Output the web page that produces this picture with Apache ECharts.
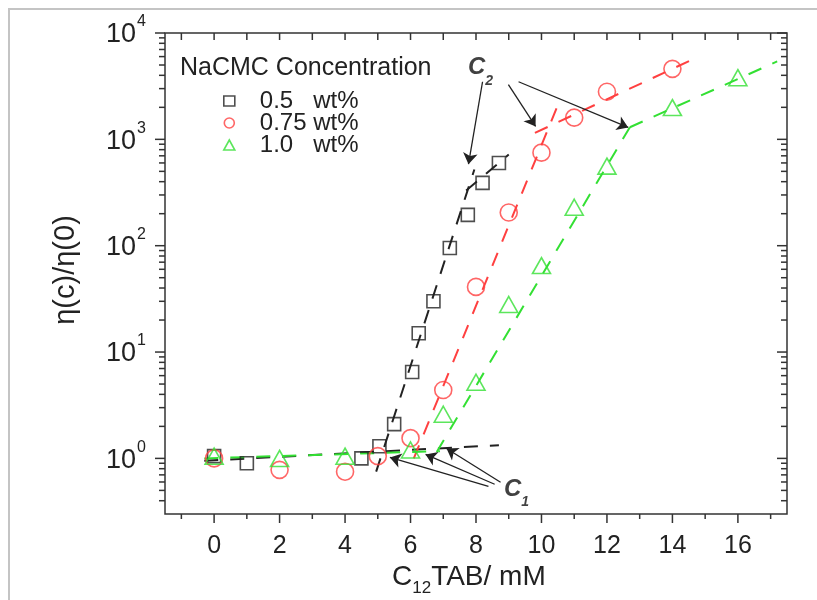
<!DOCTYPE html>
<html>
<head>
<meta charset="utf-8">
<script src="https://cdn.jsdelivr.net/npm/echarts@6/dist/echarts.min.js"></script>
<style>
  html, body { margin: 0; padding: 0; background: #fff; }
  #chart { width: 817px; height: 600px; }
</style>
</head>
<body>
<div id="chart"></div>
<script>
// Relative viscosity of NaCMC solutions versus added C12TAB

// 0.5 wt% NaCMC
const conc05 = [0, 1, 4.5, 5.05, 5.5, 6.05, 6.25, 6.7, 7.2, 7.75, 8.2, 8.7];
const eta05  = [1.05, 0.9, 1.0, 1.3, 2.1, 6.5, 15, 30, 95, 195, 390, 600];

// 0.75 wt% NaCMC
const conc075 = [0, 2, 4, 5, 6, 7, 8, 9, 10, 11, 12, 14];
const eta075  = [1.0, 0.78, 0.75, 1.05, 1.55, 4.4, 41, 205, 750, 1600, 2800, 4600];

// 1.0 wt% NaCMC
const conc10 = [0, 2, 4, 6, 7, 8, 9, 10, 11, 12, 14, 16];
const eta10  = [1.05, 1.0, 1.05, 1.2, 2.6, 5.2, 28, 65, 230, 560, 1990, 3800];

// dashed guide lines: [C12TAB, eta] end points
const guide05Flat  = [[-0.3, 0.95], [8.7, 1.33]];
const guide05Rise  = [[4.95, 0.75], [7.95, 520]];
const guide05High  = [[7.7, 330], [9.0, 720]];
const guide075Rise = [[6.1, 1.0], [10.5, 2100]];
const guide075High = [[9.8, 1150], [14.8, 6000]];
const guide10Flat  = [[-0.3, 1.0], [6.9, 1.17]];
const guide10Rise  = [[6.8, 1.15], [12.7, 1300]];
const guide10High  = [[12.7, 1300], [17.2, 5400]];

// arrows from the C1 / C2 labels to the break points
const arrowsC1 = [
  [[8.38, 0.547], [5.37, 1.02]],
  [[8.57, 0.571], [6.46, 1.09]],
  [[8.75, 0.597], [7.10, 1.24]]
];
const arrowsC2 = [
  [[8.2, 3480], [7.77, 584]],
  [[8.99, 3265], [9.82, 1323]],
  [[9.3, 3480], [12.65, 1295]]
];
const labelC1 = [8.84, 0.513];
const labelC2 = [7.74, 4710];

// axes
const X_MIN = -1.5, X_MAX = 17.5;
const Y_MIN = 0.3, Y_MAX = 10000;
const xMajorTicks = [0, 2, 4, 6, 8, 10, 12, 14, 16];
const xMinorTicks = [-1, 1, 3, 5, 7, 9, 11, 13, 15, 17];
const yMajorTicks = [1, 10, 100, 1000, 10000];
const yExponents  = ['0', '1', '2', '3', '4'];
const yMinorTicks = [0.4, 0.5, 0.6, 0.7, 0.8, 0.9,
                     2, 3, 4, 5, 6, 7, 8, 9,
                     20, 30, 40, 50, 60, 70, 80, 90,
                     200, 300, 400, 500, 600, 700, 800, 900,
                     2000, 3000, 4000, 5000, 6000, 7000, 8000, 9000];

const seriesNames = ['0.5   wt%', '0.75 wt%', '1.0   wt%'];
const BLACK = '#222222', RED = '#ff4040', GREEN = '#33e033';
const FONT = '"Liberation Sans", Arial, sans-serif';
const AXIS_COLOR = '#333333';

function pairs(xs, ys) { return xs.map((x, i) => [x, ys[i]]); }

function guide(points, color) {
  return {
    type: 'line', data: points, symbol: 'none', showSymbol: false, silent: true,
    lineStyle: { color: color, width: 2, type: [14, 12] }, z: 3
  };
}

function marks(name, xs, ys, color, symbol, size) {
  return {
    type: 'scatter', name: name, data: pairs(xs, ys), symbol: symbol, symbolSize: size,
    itemStyle: { color: 'rgba(0,0,0,0)', borderColor: color, borderWidth: 1.6 }, z: 4
  };
}

function arrows(list) {
  return {
    type: 'lines', coordinateSystem: 'cartesian2d', silent: true, z: 5,
    symbol: ['none', 'arrow'], symbolSize: [0, 11],
    lineStyle: { color: BLACK, width: 1.3, opacity: 1 },
    data: list.map(c => ({ coords: c }))
  };
}

function tag(point, sub) {
  return {
    type: 'scatter', data: [point], symbolSize: 1, silent: true, z: 6,
    itemStyle: { color: 'rgba(0,0,0,0)' },
    label: {
      show: true, position: 'right', distance: 0,
      formatter: '{c|C}{s|' + sub + '}',
      rich: {
        c: { fontFamily: FONT, fontSize: 24, fontWeight: 'bold', fontStyle: 'italic', color: '#111', lineHeight: 40 },
        s: { fontFamily: FONT, fontSize: 14, fontWeight: 'bold', fontStyle: 'italic', color: '#111', lineHeight: 14, verticalAlign: 'bottom' }
      }
    }
  };
}

// x ticks: bottom outward, top inward; labels under the major ones
const xTickData = xMajorTicks.map(v => [v, Y_MIN, 1]).concat(xMinorTicks.map(v => [v, Y_MIN, 0]));
function renderXTick(params, api) {
  const x = api.value(0), major = api.value(2) === 1;
  const bottom = api.coord([x, Y_MIN]);
  const top = api.coord([x, Y_MAX]);
  const len = major ? 9 : 5;
  const children = [
    { type: 'line', shape: { x1: bottom[0], y1: bottom[1], x2: bottom[0], y2: bottom[1] + len },
      style: { stroke: AXIS_COLOR, lineWidth: 1.5 } },
    { type: 'line', shape: { x1: top[0], y1: top[1], x2: top[0], y2: top[1] + 7 },
      style: { stroke: AXIS_COLOR, lineWidth: 1.5 } }
  ];
  if (major) {
    children.push({ type: 'text', x: bottom[0], y: bottom[1] + 32,
      style: { text: String(x), font: '25px ' + FONT, fill: '#222', align: 'center', verticalAlign: 'middle' } });
  }
  return { type: 'group', children: children };
}

// y ticks: left outward, right inward; "10^n" labels at the decades
const yTickData = yMajorTicks.map((v, i) => [X_MIN, v, 1, i]).concat(yMinorTicks.map(v => [X_MIN, v, 0, -1]));
function renderYTick(params, api) {
  const y = api.value(1), major = api.value(2) === 1;
  const left = api.coord([X_MIN, y]);
  const right = api.coord([X_MAX, y]);
  const len = major ? 10 : 6;
  const children = [
    { type: 'line', shape: { x1: left[0] - len, y1: left[1], x2: left[0], y2: left[1] },
      style: { stroke: AXIS_COLOR, lineWidth: 1.5 } },
    { type: 'line', shape: { x1: right[0] - len, y1: right[1], x2: right[0], y2: right[1] },
      style: { stroke: AXIS_COLOR, lineWidth: 1.5 } }
  ];
  if (major) {
    const exp = yExponents[api.value(3)];
    children.push({ type: 'text', x: left[0] - 29, y: left[1] + 2,
      style: { text: '10', font: '27px ' + FONT, fill: '#222', align: 'right', verticalAlign: 'middle' } });
    children.push({ type: 'text', x: left[0] - 28, y: left[1] - 11,
      style: { text: exp, font: '16px ' + FONT, fill: '#222', align: 'left', verticalAlign: 'middle' } });
  }
  return { type: 'group', children: children };
}

const chart = echarts.init(document.getElementById('chart'), null, { renderer: 'canvas' });
chart.setOption({
  animation: false,
  backgroundColor: '#ffffff',
  grid: { left: 165, right: 30, top: 33, bottom: 86, show: true, borderColor: AXIS_COLOR, borderWidth: 1.5, backgroundColor: 'rgba(0,0,0,0)' },
  xAxis: {
    type: 'value', min: X_MIN, max: X_MAX,
    axisLine: { show: false }, axisTick: { show: false }, axisLabel: { show: false }, splitLine: { show: false }
  },
  yAxis: {
    type: 'log', logBase: 10, min: Y_MIN, max: Y_MAX,
    axisLine: { show: false }, axisTick: { show: false }, axisLabel: { show: false }, splitLine: { show: false }, minorTick: { show: false }
  },
  legend: {
    orient: 'vertical', left: 218, top: 84, itemGap: -2, itemWidth: 11, itemHeight: 10,
    selectedMode: false,
    textStyle: { fontFamily: FONT, fontSize: 24, color: '#222', lineHeight: 20, padding: [0, 0, 0, 20] },
    data: [
      { name: seriesNames[0], icon: 'rect', itemStyle: { color: 'rgba(0,0,0,0)', borderColor: BLACK, borderWidth: 1.6 } },
      { name: seriesNames[1], icon: 'circle', itemStyle: { color: 'rgba(0,0,0,0)', borderColor: RED, borderWidth: 1.6 } },
      { name: seriesNames[2], icon: 'triangle', itemStyle: { color: 'rgba(0,0,0,0)', borderColor: GREEN, borderWidth: 1.6 } }
    ]
  },
  graphic: [
    { type: 'rect', z: -10, shape: { x: 9, y: 9, width: 1000, height: 1000 },
      style: { fill: 'none', stroke: '#c4c4c4', lineWidth: 2 } },
    { type: 'text', x: 180, y: 68,
      style: { text: 'NaCMC Concentration', font: '25px ' + FONT, fill: '#222', align: 'left', verticalAlign: 'middle' } },
    { type: 'text', x: 66, y: 270, rotation: Math.PI / 2,
      style: { text: 'η(c)/η(0)', font: '29px ' + FONT, fill: '#222', align: 'center', verticalAlign: 'middle' } },
    { type: 'text', x: 392, y: 577,
      style: {
        text: '{a|C}{b|12}{a|TAB/ mM}', align: 'left', verticalAlign: 'middle',
        rich: {
          a: { fontFamily: FONT, fontSize: 28, fill: '#222', lineHeight: 40 },
          b: { fontFamily: FONT, fontSize: 17, fill: '#222', lineHeight: 17, verticalAlign: 'bottom' }
        }
      } }
  ],
  series: [
    guide(guide05Flat, BLACK), guide(guide05Rise, BLACK), guide(guide05High, BLACK),
    guide(guide075Rise, RED), guide(guide075High, RED),
    guide(guide10Flat, GREEN), guide(guide10Rise, GREEN), guide(guide10High, GREEN),
    marks(seriesNames[0], conc05, eta05, BLACK, 'rect', 13),
    marks(seriesNames[1], conc075, eta075, RED, 'circle', 17),
    marks(seriesNames[2], conc10, eta10, GREEN, 'triangle', [18, 16]),
    arrows(arrowsC1), arrows(arrowsC2),
    tag(labelC1, '1'), tag(labelC2, '2'),
    { type: 'custom', data: xTickData, renderItem: renderXTick, clip: false, silent: true, z: 7, encode: { x: 0, y: 1 } },
    { type: 'custom', data: yTickData, renderItem: renderYTick, clip: false, silent: true, z: 7, encode: { x: 0, y: 1 } }
  ]
});
</script>
</body>
</html>
